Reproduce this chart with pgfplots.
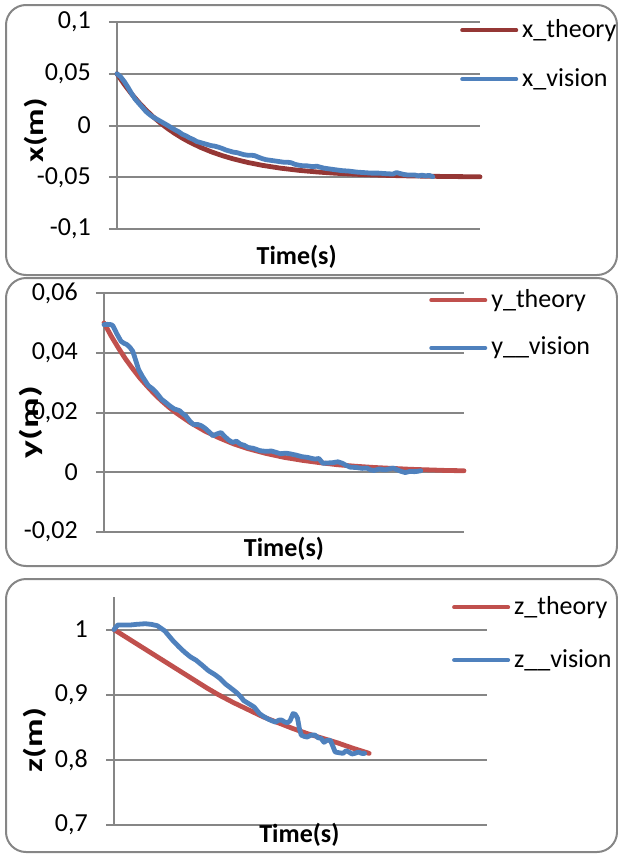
\documentclass[border=0pt]{standalone}
\usepackage{fontspec}
\setmainfont{Carlito}
\usepackage{graphicx}
\usepackage{pgfplots}
\pgfplotsset{compat=1.18}
\definecolor{xth}{RGB}{149,55,53}
\definecolor{th}{RGB}{192,80,77}
\definecolor{vis}{RGB}{79,129,189}
\definecolor{gridc}{RGB}{134,134,134}
\definecolor{brd}{RGB}{134,134,134}
\pgfplotsset{
  panel/.style={
    scale only axis,
    axis y line*=left,
    axis x line*=bottom,
    x axis line style={draw=none},
    y axis line style={gridc, line width=2bp},
    xtick=\empty,
    ymajorgrids,
    major grid style={gridc, line width=2bp},
    tick align=outside,
    major tick length=8bp,
    ytick style={gridc, line width=2bp},
    scaled y ticks=false,
    yticklabel style={inner sep=0pt, xshift=-18bp},
    xmin=0, xmax=100,
    clip=false,
    legend cell align=left,
    legend style={draw=none, fill=none, inner sep=0pt, nodes={inner sep=0pt}, /tikz/column sep=4bp, anchor=north west},
    legend image code/.code={\draw[##1, line width=4bp, line cap=round] (0bp,0bp) -- (54bp,0bp);},
  },
  dl/.style={line width=4.8bp, line join=round, line cap=round},
}
\begin{document}
\fontsize{26bp}{31bp}\selectfont
\begin{tikzpicture}
\path[use as bounding box] (0,0) rectangle (618bp,-854bp);
\draw[brd, line width=2bp, rounded corners=20bp] (6bp,-5bp) rectangle (617bp,-275bp);
\draw[brd, line width=2bp, rounded corners=20bp] (6bp,-278bp) rectangle (617bp,-566bp);
\draw[brd, line width=2bp, rounded corners=20bp] (6bp,-579bp) rectangle (617bp,-852bp);

% ---------- panel 1
\begin{axis}[panel,
  at={(117bp,-229bp)}, anchor=south west, width=363bp, height=207bp,
  ymin=-0.1, ymax=0.1, ytick={-0.1,-0.05,0,0.05,0.1},
  yticklabels={{-0,1},{-0,05},0,{0,05},{0,1}},
  xlabel={\bfseries Time(s)}, ylabel={\scalebox{1.3}[1]{\bfseries x(m)}},
  every axis x label/.style={at={(axis description cs:0.495,-0.135)}, anchor=center},
  every axis y label/.style={at={(axis description cs:-0.225,0.478)}, anchor=center, rotate=90},
  legend style={at={(axis description cs:0.945,1.014)}, row sep=27bp},
]
\addplot[dl, xth] coordinates {
(0,0.05) (2,0.03976) (4,0.03057) (6,0.02233) (8,0.01492) (10,0.00827) (12,0.00231)
(14,-0.00305) (16,-0.00785) (18,-0.01217) (20,-0.01604) (23,-0.02112) (26,-0.02544)
(29,-0.02911) (32,-0.03224) (36,-0.03569) (40,-0.03847) (45,-0.04120) (50,-0.04328)
(55,-0.04487) (60,-0.04608) (65,-0.04701) (70,-0.04772) (75,-0.04826) (80,-0.04867)
(85,-0.04898) (90,-0.04923) (95,-0.04941) (100,-0.04955)};
\addlegendentry{x\_theory}
\addplot[dl, vis] coordinates {
(0,0.0500) (1,0.0470) (2,0.0425) (3,0.0370) (4,0.0310) (5,0.0255) (6,0.0215) (7,0.0175)
(8,0.0135) (9,0.0105) (10,0.0080) (11,0.0060) (12,0.0040) (13,0.0020) (14,0.0000)
(15,-0.0022) (16,-0.0042) (17,-0.0060) (18,-0.0085) (19,-0.0100) (20,-0.0120)
(21,-0.0135) (22,-0.0155) (23,-0.0165) (24,-0.0175) (25,-0.0185) (26,-0.0195)
(27,-0.0200) (28,-0.0210) (29,-0.0222) (30,-0.0237) (31,-0.0247) (32,-0.0257)
(33,-0.0262) (34,-0.0272) (35,-0.0282) (36,-0.0287) (37,-0.0287) (38,-0.0292)
(39,-0.0307) (40,-0.0320) (41,-0.0330) (42,-0.0335) (43,-0.0340) (44,-0.0345)
(45,-0.0350) (46,-0.0355) (47,-0.0355) (48,-0.0360) (49,-0.0375) (50,-0.0383)
(51,-0.0388) (52,-0.0388) (53,-0.0393) (54,-0.0398) (55,-0.0393) (56,-0.0403)
(57,-0.0412) (58,-0.0417) (59,-0.0422) (60,-0.0427) (62,-0.0436) (64,-0.0441)
(66,-0.0450) (68,-0.0455) (70,-0.0460) (72,-0.0460) (74,-0.0465) (76,-0.0469)
(77,-0.0455) (78,-0.0464) (79,-0.0473) (80,-0.0478) (82,-0.0478) (83,-0.0487)
(84,-0.0480) (85,-0.0487) (86,-0.0482) (87,-0.0495)};
\addlegendentry{x\_vision}
\end{axis}

% ---------- panel 2
\begin{axis}[panel,
  at={(104bp,-532bp)}, anchor=south west, width=360bp, height=239bp,
  ymin=-0.02, ymax=0.06, ytick={-0.02,0,0.02,0.04,0.06},
  yticklabels={{-0,02},0,{0,02},{0,04},{0,06}},
  xlabel={\bfseries Time(s)}, ylabel={\scalebox{1.45}[1]{\bfseries y(m)}},
  every axis x label/.style={at={(axis description cs:0.5,-0.071)}, anchor=center},
  every axis y label/.style={at={(axis description cs:-0.204,0.46)}, anchor=center, rotate=90},
  legend style={at={(axis description cs:0.903,1.017)}, row sep=26bp},
]
\addplot[dl, th] coordinates {
(0,0.05) (2,0.0456) (4,0.0416) (6,0.0379) (8,0.0346) (10,0.0315) (12,0.0288) (14,0.0262)
(16,0.0239) (18,0.0218) (20,0.0199) (24,0.0166) (28,0.0138) (32,0.0115) (36,0.0095)
(40,0.0079) (45,0.0063) (50,0.0050) (55,0.0040) (60,0.0032) (65,0.0025) (70,0.0020)
(75,0.0016) (80,0.0013) (85,0.0010) (90,0.0008) (95,0.0006) (100,0.0005)};
\addlegendentry{y\_theory}
\addplot[dl, vis] coordinates {
(0,0.0494) (1,0.0495) (2,0.0494) (2.5,0.0490) (3.5,0.0465) (4.7,0.0439) (5.5,0.0432)
(6.3,0.0428) (7.2,0.0418) (8,0.0405) (8.8,0.0375) (9.6,0.0344) (10.7,0.0320) (11.5,0.0305)
(12.3,0.0290) (13.4,0.0280) (14.5,0.0267) (15.3,0.0255) (16,0.0244) (17,0.0235)
(18.3,0.0222) (19.5,0.0212) (21,0.0206) (22,0.0195) (22.7,0.0189) (23.8,0.0172)
(24.8,0.0160) (26,0.0160) (27,0.0156) (28,0.0148) (29.2,0.0135) (30.3,0.0122)
(31.3,0.0128) (32.5,0.0133) (33.5,0.0120) (34.6,0.0108) (35.7,0.0100) (36.8,0.0104)
(37.9,0.0094) (39,0.0090) (40,0.0083) (41.5,0.0080) (43.4,0.0072) (45,0.0070)
(46.5,0.0071) (47.7,0.0067) (49,0.0062) (50.5,0.0064) (52,0.0061) (53.5,0.0057)
(55,0.0052) (56.4,0.0050) (57.5,0.0047) (58.6,0.0044) (59.7,0.0046) (60.8,0.0030)
(62,0.0031) (63.5,0.0032) (65,0.0035) (66.2,0.0030) (67.3,0.0023) (68.4,0.0017)
(70,0.0016) (71.7,0.0013) (73,0.0014) (74,0.0008) (75,0.0006) (76.5,0.0011)
(78,0.0008) (79.5,0.0012) (80.4,0.0014) (81.5,0.0008) (82.5,0.0003) (83.7,-0.0001)
(85,0.0003) (86.2,0.0002) (87,0.0003) (88,0.0005)};
\addlegendentry{y\_\_vision}
\end{axis}

% ---------- panel 3
\begin{axis}[panel,
  at={(114bp,-825bp)}, anchor=south west, width=373bp, height=228bp,
  ymin=0.7, ymax=1.05, ytick={0.7,0.8,0.9,1.0},
  yticklabels={{0,7},{0,8},{0,9},1},
  xlabel={\bfseries Time(s)}, ylabel={\scalebox{1.35}[1]{\bfseries z(m)}},
  every axis x label/.style={at={(axis description cs:0.497,-0.044)}, anchor=center},
  every axis y label/.style={at={(axis description cs:-0.211,0.373)}, anchor=center, rotate=90},
  legend style={at={(axis description cs:0.906,1.004)}, row sep=31bp},
]
\addplot[dl, th] coordinates {
(0,1.000) (5,0.982) (10,0.964) (15,0.946) (20,0.928) (25,0.910) (28,0.900) (32,0.888)
(36,0.877) (40,0.866) (44,0.857) (48,0.848) (52,0.840) (56,0.833) (60,0.826)
(64,0.818) (68.4,0.810)};
\addlegendentry{z\_theory}
\addplot[dl, vis] coordinates {
(0,1.000) (1,1.007) (2.5,1.007) (4.3,1.007) (6,1.008) (8.4,1.009) (10,1.008)
(11.6,1.006) (13.6,0.998) (15.8,0.983) (17.5,0.973) (19,0.965) (20.5,0.958) (22,0.953)
(23.7,0.945) (25.3,0.937) (27,0.931) (28.4,0.925) (30,0.916) (31.6,0.909) (32.7,0.904)
(33.8,0.898) (34.8,0.891) (36.2,0.886) (37.6,0.881) (39,0.871) (40,0.867) (41.2,0.863)
(42.3,0.860) (43.3,0.858) (44.2,0.861) (45,0.861) (45.8,0.858) (46.5,0.857) (47.2,0.860)
(48,0.871) (48.6,0.870) (49.2,0.864) (49.7,0.848) (50.2,0.838) (51,0.836) (51.8,0.835)
(52.8,0.838) (53.9,0.838) (54.7,0.834) (55.5,0.833) (56.3,0.827) (57.1,0.830) (58,0.830)
(58.6,0.822) (59.3,0.812) (60.3,0.811) (61.4,0.810) (62.2,0.814) (63,0.812) (63.8,0.809)
(64.6,0.810) (65.5,0.812) (66.4,0.810) (67.2,0.810)};
\addlegendentry{z\_\_vision}
\end{axis}
\end{tikzpicture}
\end{document}
